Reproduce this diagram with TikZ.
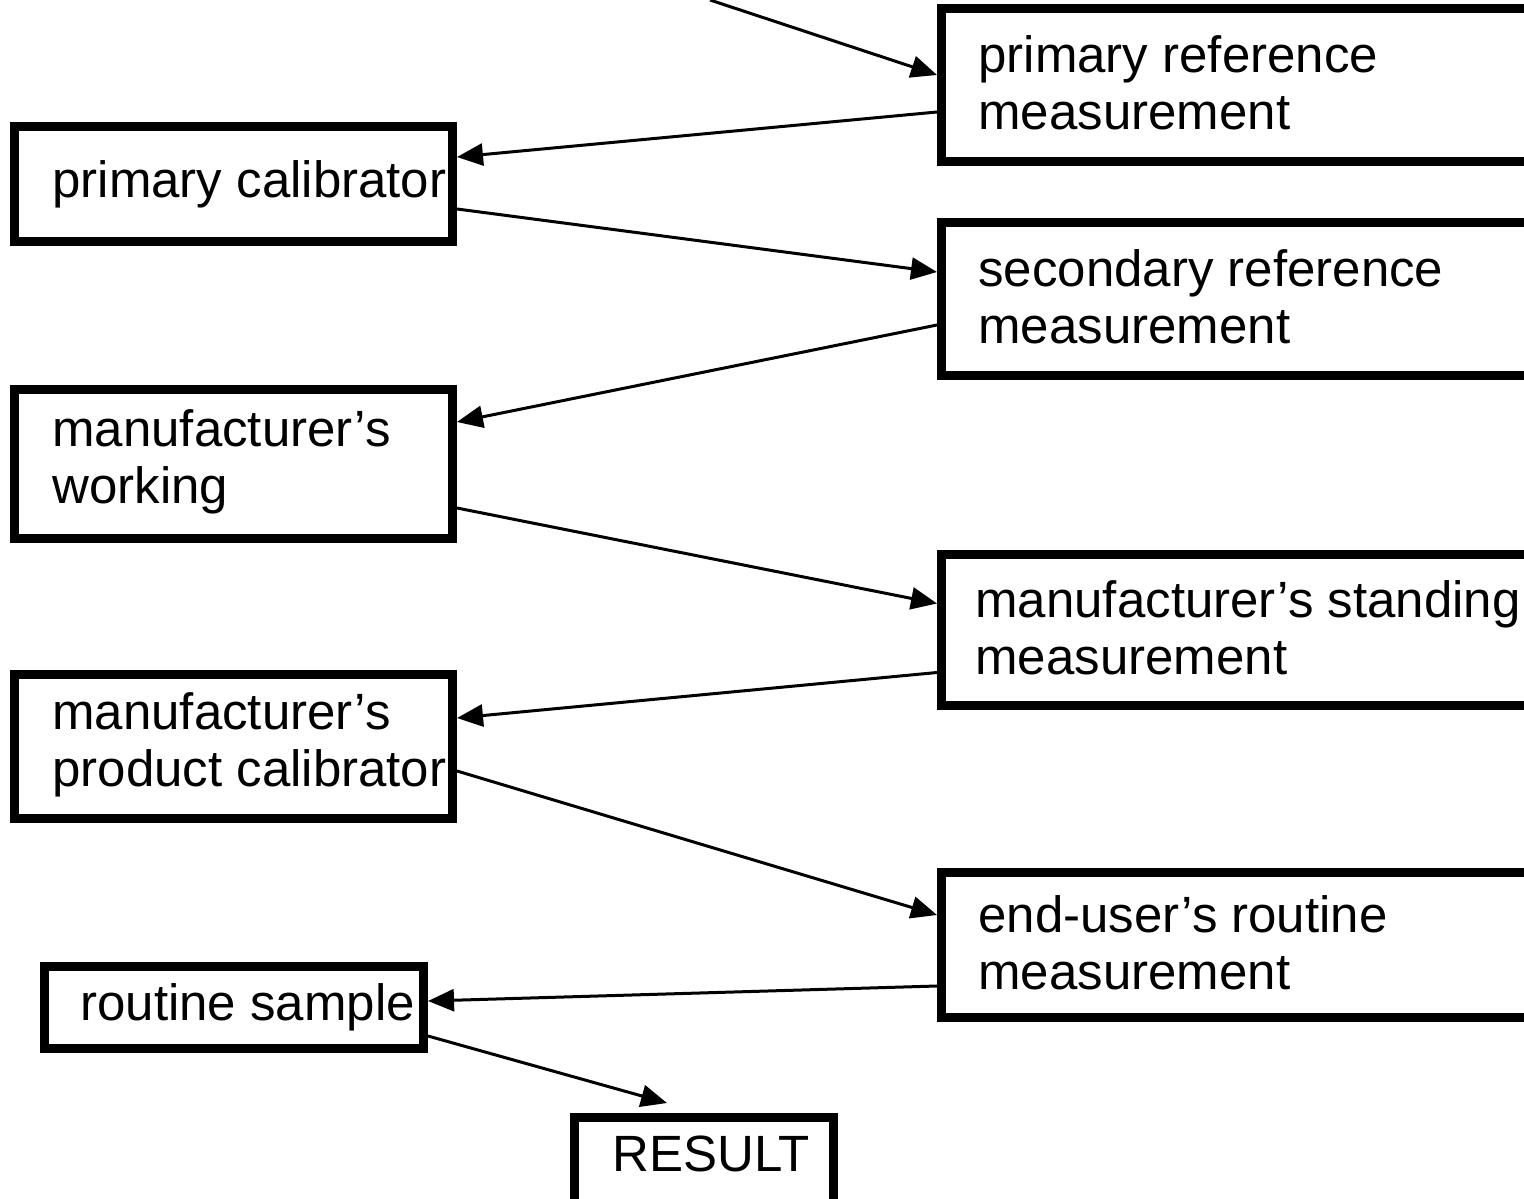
\documentclass[tikz,border=0pt]{standalone}
\usepackage{fontspec}
\setmainfont{Liberation Sans}
\usetikzlibrary{arrows.meta,calc}
\begin{document}
\begin{tikzpicture}[x=0.5pt,y=-0.5pt,
  box/.style={draw=black,line width=4.5pt,fill=white,inner sep=0pt,anchor=north west},
  lbl/.style={font=\fontsize{25.5}{28.5}\selectfont,align=left,inner sep=0pt,anchor=west},
  conn/.style={line width=1.5pt,-{Triangle[length=13pt,width=11pt]}}]
\clip (0,0) rectangle (1524,1198);
\fill[white] (0,0) rectangle (1524,1198);
% right column boxes
\node[box,minimum width=329pt,minimum height=76.5pt] (prm) at (937,4) {};
\node[box,minimum width=329pt,minimum height=76.5pt] (srm) at (937,218) {};
\node[box,minimum width=329pt,minimum height=75.5pt] (msm) at (937,550) {};
\node[box,minimum width=329pt,minimum height=72.5pt] (eur) at (937,868) {};
% left column boxes
\node[box,minimum width=219pt,minimum height=57.5pt] (pc) at (10,122) {};
\node[box,minimum width=219pt,minimum height=74.5pt] (mw) at (10,385) {};
\node[box,minimum width=219pt,minimum height=72pt] (mpc) at (10,670) {};
\node[box,minimum width=189.5pt,minimum height=41pt] (rs) at (40,962) {};
\node[box,minimum width=129.5pt,minimum height=44pt] (res) at (570,1113) {};
% labels
\node[lbl] (prmt) at ($(prm.west)+(41,-2)$) {primary reference\\measurement};
\node[lbl] (srmt) at ($(srm.west)+(41,-2)$) {secondary reference\\measurement};
\node[lbl] (msmt) at ($(msm.west)+(38,-2)$) {manufacturer’s standing\\measurement};
\node[lbl] (eurt) at ($(eur.west)+(41,-2)$) {end-user’s routine\\measurement};
\node[lbl] (pct) at ($(pc.west)+(42,0)$) {primary calibrator};
\node[lbl] (mwt) at ($(mw.west)+(42,-2)$) {manufacturer’s\\working};
\node[lbl] (mpct) at ($(mpc.west)+(42,-2)$) {manufacturer’s\\product calibrator};
\node[lbl] (rst) at ($(rs.west)+(40,0)$) {routine sample};
\node[lbl] (rest) at ($(res.west)+(42,-8)$) {RESULT};
% connectors
\coordinate (src) at (710,0);
\draw[conn] (src) -- ($(prm.west)+(0,-10)$);
\draw[conn] ($(prm.west)+(0,27)$) -- ($(pc.east)+(0,-27)$);
\draw[conn] ($(pc.east)+(0,25)$) -- ($(srm.west)+(0,-27)$);
\draw[conn] ($(srm.west)+(0,26)$) -- ($(mw.east)+(0,-42)$);
\draw[conn] ($(mw.east)+(0,44)$) -- ($(msm.west)+(0,-26.5)$);
\draw[conn] ($(msm.west)+(0,42.5)$) -- ($(mpc.east)+(0,-28.5)$);
\draw[conn] ($(mpc.east)+(0,24.5)$) -- ($(eur.west)+(0,-30)$);
\draw[conn] ($(eur.west)+(0,41)$) -- ($(rs.east)+(0,-6.5)$);
\draw[conn] ($(rs.east)+(0,28.5)$) -- ($(res.north)+(-37,-10)$);
\end{tikzpicture}
\end{document}
